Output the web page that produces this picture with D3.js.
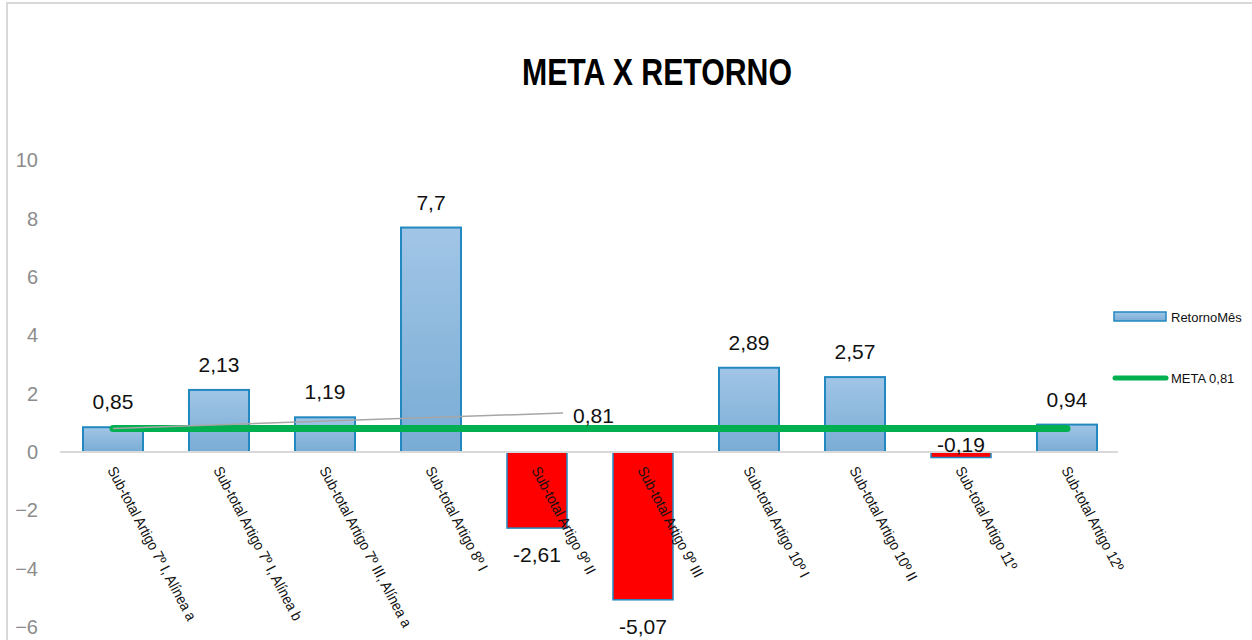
<!DOCTYPE html>
<html>
<head>
<meta charset="utf-8">
<script src="https://cdn.jsdelivr.net/npm/d3@7"></script>
<style>
  body { margin: 0; background: #fff; }
  text { font-family: "Liberation Sans", Arial, sans-serif; }
</style>
</head>
<body>
<div id="chart"></div>
<script>
// Chart data
var categories = [
  "Sub-total Artigo 7º I, Alínea a",
  "Sub-total Artigo 7º I, Alínea b",
  "Sub-total Artigo 7º III, Alínea a",
  "Sub-total Artigo 8º I",
  "Sub-total Artigo 9º II",
  "Sub-total Artigo 9º III",
  "Sub-total Artigo 10º I",
  "Sub-total Artigo 10º II",
  "Sub-total Artigo 11º",
  "Sub-total Artigo 12º"
];
var retorno = [0.85, 2.13, 1.19, 7.7, -2.61, -5.07, 2.89, 2.57, -0.19, 0.94];
var meta = [0.81, 0.81, 0.81, 0.81, 0.81, 0.81, 0.81, 0.81, 0.81, 0.81];
var yTicks = [-6, -4, -2, 0, 2, 4, 6, 8, 10];
var seriesNames = ["RetornoMês", "META 0,81"];

var svgWidth = 1252;
var svgHeight = 640;

var svg = d3.select("#chart")
  .append("svg")
  .attr("width", svgWidth)
  .attr("height", svgHeight);

// gradient for the bars
var defs = svg.append("defs");
var grad = defs.append("linearGradient")
  .attr("id", "barGrad")
  .attr("x1", 0).attr("y1", 0).attr("x2", 0).attr("y2", 1);
grad.append("stop").attr("offset", "0%").attr("stop-color", "#a1c5e6");
grad.append("stop").attr("offset", "100%").attr("stop-color", "#79acd5");

// chart frame
svg.append("rect")
  .attr("x", 7).attr("y", 3)
  .attr("width", 1300).attr("height", 700)
  .attr("fill", "none")
  .attr("stroke", "#d9d9d9")
  .attr("stroke-width", 2);

// title
svg.append("text")
  .attr("x", 657)
  .attr("y", 85)
  .attr("text-anchor", "middle")
  .attr("font-size", 36)
  .attr("font-weight", "bold")
  .attr("textLength", 270)
  .attr("lengthAdjust", "spacingAndGlyphs")
  .text("META X RETORNO");

// scales
var xScale = d3.scaleBand()
  .domain(categories)
  .range([60, 1120])
  .paddingInner(0.434)
  .paddingOuter(0.217);

var yScale = d3.scaleLinear()
  .domain([-6, 10])
  .range([626.9, 160.5]);

// y axis labels (no line, no ticks)
var yAxis = svg.append("g")
  .attr("transform", "translate(38,0)")
  .call(d3.axisLeft(yScale).tickValues(yTicks).tickSize(0).tickPadding(0));
yAxis.select(".domain").remove();
yAxis.selectAll("text")
  .attr("font-size", 20)
  .attr("fill", "#8c8c8c")
  .attr("font-family", "Liberation Sans, Arial, sans-serif");

// bars
var bw = xScale.bandwidth();
svg.selectAll(".bar")
  .data(retorno)
  .enter()
  .append("rect")
  .attr("class", "bar")
  .attr("x", (d, i) => xScale(categories[i]))
  .attr("y", d => yScale(Math.max(0, d)))
  .attr("width", bw)
  .attr("height", d => Math.abs(yScale(d) - yScale(0)))
  .attr("fill", d => d < 0 ? "#ff0000" : "url(#barGrad)")
  .attr("stroke", "#2288c0")
  .attr("stroke-width", d => d < 0 ? 1.5 : 2);

// zero line
svg.append("line")
  .attr("x1", 60).attr("x2", 1118)
  .attr("y1", yScale(0)).attr("y2", yScale(0))
  .attr("stroke", "#d9d9d9")
  .attr("stroke-width", 2);

// data labels
svg.selectAll(".val")
  .data(retorno)
  .enter()
  .append("text")
  .attr("class", "val")
  .attr("x", (d, i) => xScale(categories[i]) + bw / 2)
  .attr("y", function(d) {
    if (d >= 0) return yScale(d) - 18;
    if (yScale(d) - yScale(0) < 20) return yScale(0);
    return yScale(d) + 34;
  })
  .attr("text-anchor", "middle")
  .attr("font-size", 21)
  .attr("fill", "#111")
  .text(d => String(d).replace(".", ","));

// category labels (narrow look)
svg.selectAll(".cat")
  .data(categories)
  .enter()
  .append("text")
  .attr("class", "cat")
  .attr("transform", d => `translate(${xScale(d) + bw / 2 - 6}, 470) rotate(62) scale(0.9, 1)`)
  .attr("font-size", 15)
  .attr("fill", "#111")
  .text(d => d);

// meta line
var metaLine = d3.line()
  .x((d, i) => xScale(categories[i]) + bw / 2)
  .y(d => yScale(d));

svg.append("path")
  .datum(meta)
  .attr("d", metaLine)
  .attr("fill", "none")
  .attr("stroke", "#00b050")
  .attr("stroke-width", 7)
  .attr("stroke-linecap", "round");

// meta label with leader line
var mx = xScale(categories[0]) + bw / 2;
var my = yScale(meta[0]);
svg.append("line")
  .attr("x1", mx).attr("y1", my)
  .attr("x2", 563).attr("y2", 413)
  .attr("stroke", "#a6a6a6")
  .attr("stroke-width", 1.5);
svg.append("text")
  .attr("x", 573)
  .attr("y", 423)
  .attr("font-size", 21)
  .attr("fill", "#111")
  .text(String(meta[0]).replace(".", ","));

// legend
var legend = svg.append("g");
legend.append("rect")
  .attr("x", 1114).attr("y", 312)
  .attr("width", 52).attr("height", 9)
  .attr("fill", "url(#barGrad)")
  .attr("stroke", "#2288c0")
  .attr("stroke-width", 1.5);
legend.append("text")
  .attr("x", 1171).attr("y", 317)
  .attr("dy", "0.35em")
  .attr("font-size", 13)
  .attr("fill", "#111")
  .text(seriesNames[0]);
legend.append("line")
  .attr("x1", 1115).attr("x2", 1166)
  .attr("y1", 378).attr("y2", 378)
  .attr("stroke", "#00b050")
  .attr("stroke-width", 5)
  .attr("stroke-linecap", "round");
legend.append("text")
  .attr("x", 1171).attr("y", 378)
  .attr("dy", "0.35em")
  .attr("font-size", 13)
  .attr("fill", "#111")
  .text(seriesNames[1]);
</script>
</body>
</html>
